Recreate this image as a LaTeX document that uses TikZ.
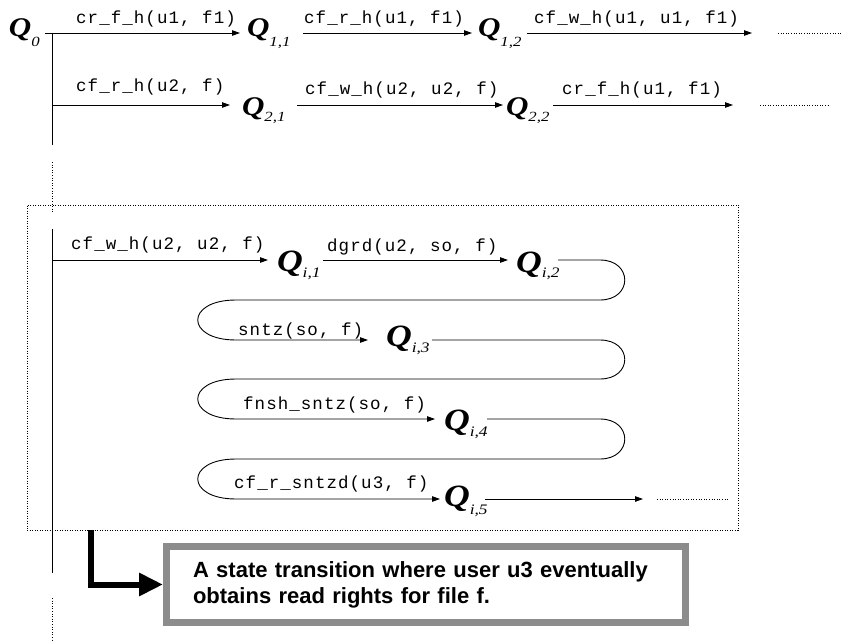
\documentclass[tikz,border=0pt]{standalone}
\usepackage{fontspec}
\usetikzlibrary{arrows.meta}
\newfontfamily\monof[LetterSpace=6]{Liberation Mono}
\newfontfamily\serf[FakeStretch=1.15]{Liberation Serif}
\newfontfamily\subserf[FakeStretch=1.2]{Liberation Serif}
\newfontfamily\sansf{Liberation Sans}
\definecolor{framegray}{RGB}{140,140,140}
% #1 box width, #2 lead space, #3 drop of Q, #4 drop of subscript, #5 subscript
\newcommand\QA[5]{\makebox[#1pt][l]{\hspace*{#2pt}\raisebox{-#3pt}{\serf\bfseries\itshape\fontsize{27}{27}\selectfont Q\raisebox{-#4pt}{\subserf\mdseries\itshape\fontsize{14}{14}\selectfont #5}}}}
\newcommand\QB[5]{\makebox[#1pt][l]{\hspace*{#2pt}\raisebox{-#3pt}{\serf\bfseries\itshape\fontsize{31}{31}\selectfont Q\raisebox{-#4pt}{\subserf\mdseries\itshape\fontsize{14.5}{14.5}\selectfont #5}}}}
\begin{document}
\begin{tikzpicture}[x=1pt,y=-1pt,
  qn/.style={inner sep=0pt, outer sep=0pt, anchor=west, text height=0pt, text depth=0pt},
  lbl/.style={inner sep=0pt, anchor=base west, font=\monof\fontsize{17.5}{17.5}\selectfont},
  ln/.style={line width=0.9pt},
  arr/.style={line width=0.9pt, -{Triangle[length=8pt,width=5.5pt]}},
  dotl/.style={line width=0.9pt, dash pattern=on 1pt off 1.6pt},
  framebox/.style={draw, line width=0.9pt, dash pattern=on 1pt off 1.5pt, inner sep=0pt, outer sep=0pt, minimum width=711pt, minimum height=325pt},
  notebox/.style={draw=framegray, line width=7pt, fill=white, inner xsep=26.5pt, inner ysep=0pt, minimum height=76pt, text width=466pt, align=left, font=\sansf\bfseries\fontsize{22}{26}\selectfont},
  fat/.style={line width=6pt, -{Triangle[length=24pt,width=22pt]}}
]
\fill[white] (0,0) rectangle (843,642);
\useasboundingbox (0,0) rectangle (843,642);

% dotted frame
\node[framebox] (frame) at (382.5,367.5) {};

% trunk
\coordinate (t0) at (52,33);
\coordinate (t2) at (52,105);
\coordinate (ti) at (52,260);
\draw[ln] (t0) -- (52,145);
\draw[dotl] (52,162) -- (52,213);
\draw[ln] (52,229) -- (52,573);
\draw[dotl] (52,598) -- (52,642);

% row 1
\node[qn] (q0) at (9,33) {\QA{36}{0}{3.5}{10}{0}};
\node[qn] (q11) at (240,33) {\QA{63}{7}{3.5}{10}{1,1}};
\node[qn] (q12) at (472,33) {\QA{55}{6}{3.5}{10}{1,2}};
\coordinate (e1) at (752,33);
\draw[arr] (q0.east) -- (q11.west);
\draw[arr] (q11.east) -- (q12.west);
\draw[arr] (q12.east) -- (e1);
\draw[dotl] (778,33) -- (843,33);
\node[lbl] (l1) at (76,24) {cr\_f\_h(u1, f1)};
\node[lbl] (l2) at (304,24) {cf\_r\_h(u1, f1)};
\node[lbl] (l3) at (534,24) {cf\_w\_h(u1, u1, f1)};

% row 2
\node[qn] (q21) at (230,105) {\QA{67}{12}{10}{7}{2,1}};
\node[qn] (q22) at (503,105) {\QA{50}{3}{10}{7}{2,2}};
\coordinate (e2) at (733,105);
\draw[arr] (t2) -- (q21.west);
\draw[arr] (q21.east) -- (q22.west);
\draw[arr] (q22.east) -- (e2);
\draw[dotl] (760,105) -- (830,105);
\node[lbl] (l4) at (76,92) {cf\_r\_h(u2, f)};
\node[lbl] (l5) at (305,95) {cf\_w\_h(u2, u2, f)};
\node[lbl] (l6) at (562,95) {cr\_f\_h(u1, f1)};

% inner rows
\node[qn] (qi1) at (268,260) {\QB{55}{9}{11.5}{5.5}{i,1}};
\node[qn] (qi2) at (508,260) {\QB{50}{8}{12}{5}{i,2}};
\node[qn] (qi3) at (368,340) {\QB{64}{18}{6.5}{5.5}{i,3}};
\node[qn] (qi4) at (435,419) {\QB{52}{9}{11.5}{5.5}{i,4}};
\node[qn] (qi5) at (440,499) {\QB{45}{4}{7.5}{7.5}{i,5}};
\coordinate (e5) at (643,499);

\draw[arr] (ti) -- (qi1.west);
\draw[arr] (qi1.east) -- (qi2.west);
\draw[arr] (qi2.east) -- (600,260) .. controls (633,260) and (633,300) .. (600,300)
  -- (236,300) .. controls (185,300) and (185,340) .. (236,340) -- (qi3.west);
\draw[arr] (qi3.east) -- (600,340) .. controls (633,340) and (633,379) .. (600,379)
  -- (236,379) .. controls (185,379) and (185,419) .. (236,419) -- (qi4.west);
\draw[arr] (qi4.east) -- (600,419) .. controls (633,419) and (633,459) .. (600,459)
  -- (236,459) .. controls (185,459) and (185,499) .. (236,499) -- (qi5.west);
\draw[arr] (qi5.east) -- (e5);
\draw[dotl] (657,499) -- (728,499);

\node[lbl] (l7) at (71,249) {cf\_w\_h(u2, u2, f)};
\node[lbl] (l8) at (327,251) {dgrd(u2, so, f)};
\node[lbl] (l9) at (238,335) {sntz(so, f)};
\node[lbl] (l10) at (243,409) {fnsh\_sntz(so, f)};
\node[lbl] (l11) at (234,488) {cf\_r\_sntzd(u3, f)};

% note box and fat arrow
\node[notebox] (note) at (426,584.5) {A state transition where user u3 eventually\\obtains read rights for file f.};
\draw[fat] ([xshift=64pt]frame.south west) |- (note.west);
\end{tikzpicture}
\end{document}
